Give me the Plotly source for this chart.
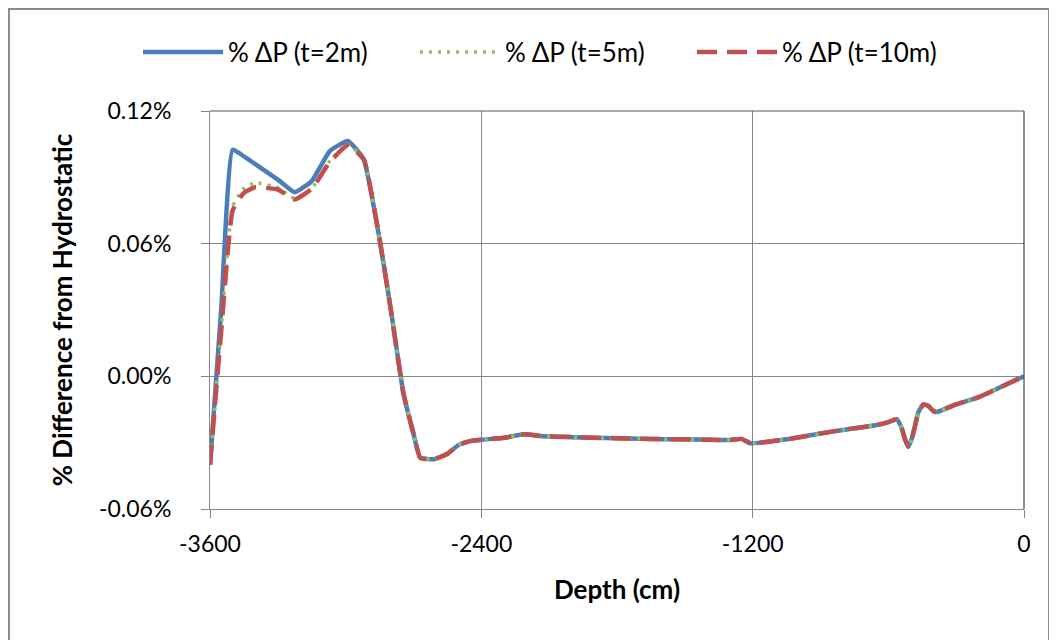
import plotly.graph_objects as go

# Depth (cm)
depth = [-3600, -3550, -3500, -3450, -3400, -3300, -3225, -3150, -3070, -2990,
         -2920, -2850, -2800, -2745, -2700, -2670, -2610, -2550, -2500, -2450,
         -2400, -2300, -2210, -2140, -2000, -1900, -1800, -1700, -1600, -1500,
         -1400, -1300, -1250, -1210, -1150, -1050, -950, -850, -750, -650,
         -600, -563, -542, -526, -512, -497, -482, -468, -445, -423, -401, -386,
         -300, -200, -100, 0]

# % difference from hydrostatic (values in percent)
pct_t2 = [-0.040, 0.031, 0.1025, 0.0995, 0.096, 0.089, 0.0833, 0.0883, 0.1019, 0.1064,
          0.0981, 0.062, 0.030, -0.0074, -0.026, -0.0368, -0.0375, -0.035, -0.031, -0.0293,
          -0.0287, -0.0278, -0.0262, -0.0270, -0.0275, -0.0278, -0.0280, -0.0282, -0.0284, -0.0285,
          -0.0287, -0.0288, -0.0283, -0.0303, -0.0298, -0.0285, -0.0268, -0.0250, -0.0235, -0.0220,
          -0.0207, -0.0194, -0.0232, -0.0285, -0.0318, -0.0285, -0.0225, -0.0164, -0.0127, -0.0134, -0.0157, -0.0161,
          -0.0127, -0.0094, -0.0047, 0.0]

pct_t5 = [-0.040, 0.022, 0.077, 0.085, 0.0876, 0.0853, 0.0804, 0.0850, 0.0974, 0.1050,
          0.0981, 0.062, 0.030, -0.0074, -0.026, -0.0368, -0.0375, -0.035, -0.031, -0.0293,
          -0.0287, -0.0278, -0.0262, -0.0270, -0.0275, -0.0278, -0.0280, -0.0282, -0.0284, -0.0285,
          -0.0287, -0.0288, -0.0283, -0.0303, -0.0298, -0.0285, -0.0268, -0.0250, -0.0235, -0.0220,
          -0.0207, -0.0194, -0.0232, -0.0285, -0.0318, -0.0285, -0.0225, -0.0164, -0.0127, -0.0134, -0.0157, -0.0161,
          -0.0127, -0.0094, -0.0047, 0.0]

pct_t10 = [-0.040, 0.021, 0.075, 0.083, 0.0855, 0.0845, 0.0800, 0.0848, 0.0970, 0.1045,
           0.0981, 0.062, 0.030, -0.0074, -0.026, -0.0368, -0.0375, -0.035, -0.031, -0.0293,
           -0.0287, -0.0278, -0.0262, -0.0270, -0.0275, -0.0278, -0.0280, -0.0282, -0.0284, -0.0285,
           -0.0287, -0.0288, -0.0283, -0.0303, -0.0298, -0.0285, -0.0268, -0.0250, -0.0235, -0.0220,
           -0.0207, -0.0194, -0.0232, -0.0285, -0.0318, -0.0285, -0.0225, -0.0164, -0.0127, -0.0134, -0.0157, -0.0161,
           -0.0127, -0.0094, -0.0047, 0.0]

series_names = ["% ΔP (t=2m)", "% ΔP (t=5m)", "% ΔP (t=10m)"]
x_ticks = [-3600, -2400, -1200, 0]
x_tick_labels = ["-3600", "-2400", "-1200", "0"]
y_ticks = [-0.06, 0.0, 0.06, 0.12]
y_tick_labels = ["-0.06%", "0.00%", "0.06%", "0.12%"]

FONT = "Lato, 'Open Sans', sans-serif"

fig = go.Figure()
fig.add_trace(go.Scatter(x=depth, y=pct_t2, mode="lines", name=series_names[0],
                         line=dict(color="#4A7EBB", width=4.5, shape="spline", smoothing=0.4)))
fig.add_trace(go.Scatter(x=depth, y=pct_t5, mode="lines", name=series_names[1],
                         line=dict(color="#9BBB59", width=3.5, dash="3px,6px", shape="spline", smoothing=0.4)))
fig.add_trace(go.Scatter(x=depth, y=pct_t10, mode="lines", name=series_names[2],
                         line=dict(color="#C0504D", width=4.5, dash="20px,10px", shape="spline", smoothing=0.4)))

OFF = 8  # page offset of the figure
W, H = 1057 - OFF, 640 - OFF
L = 210 - OFF
T = 111 - OFF
R = W - (1024 - OFF)
B = H - (509 - OFF)
pw, ph = W - L - R, H - T - B

def px_to_paper_x(px):  # px in page coordinates
    return (px - OFF - L) / pw

def px_to_paper_y(py):
    return (H - B - (py - OFF)) / ph

shapes = [
    dict(type="rect", xref="paper", yref="paper",
         x0=px_to_paper_x(9), x1=px_to_paper_x(1049),
         y0=px_to_paper_y(700), y1=px_to_paper_y(9),
         line=dict(color="#8C8C8C", width=2), fillcolor="rgba(0,0,0,0)", layer="below"),
    dict(type="line", xref="paper", yref="paper", x0=0, x1=1, y0=1, y1=1,
         line=dict(color="#595959", width=1.2)),
    dict(type="line", xref="paper", yref="paper", x0=1, x1=1, y0=0, y1=1,
         line=dict(color="#404040", width=1.2)),
]

fig.update_layout(
    width=W, height=H,
    margin=dict(l=L, r=R, t=T, b=B, autoexpand=False),
    paper_bgcolor="white", plot_bgcolor="white",
    font=dict(family=FONT, size=23, color="#000000"),
    showlegend=True,
    legend=dict(orientation="h", x=px_to_paper_x(138), xanchor="left",
                y=px_to_paper_y(52), yanchor="middle",
                font=dict(family=FONT, size=26), itemwidth=80,
                entrywidth=182, entrywidthmode="pixels",
                tracegroupgap=0, bgcolor="rgba(0,0,0,0)"),
    shapes=shapes,
    xaxis=dict(range=[-3600, 0], tickvals=x_ticks, ticktext=x_tick_labels,
               showgrid=True, gridcolor="#878787", gridwidth=1,
               showline=True, linecolor="#878787", linewidth=1,
               ticks="outside", ticklen=8, tickcolor="#878787",
               zeroline=False, ticklabelstandoff=6,
               title=dict(text="<b>Depth (cm)</b>", font=dict(family=FONT, size=26), standoff=25)),
    yaxis=dict(range=[-0.06, 0.12], tickvals=y_ticks, ticktext=y_tick_labels,
               showgrid=True, gridcolor="#878787", gridwidth=1,
               showline=True, linecolor="#878787", linewidth=1,
               ticks="outside", ticklen=8, tickcolor="#878787",
               zeroline=False, ticklabelstandoff=25,
               title=dict(text="<b>% Difference from Hydrostatic</b>", font=dict(family=FONT, size=26), standoff=18)),
)

fig.write_html("out.html")
